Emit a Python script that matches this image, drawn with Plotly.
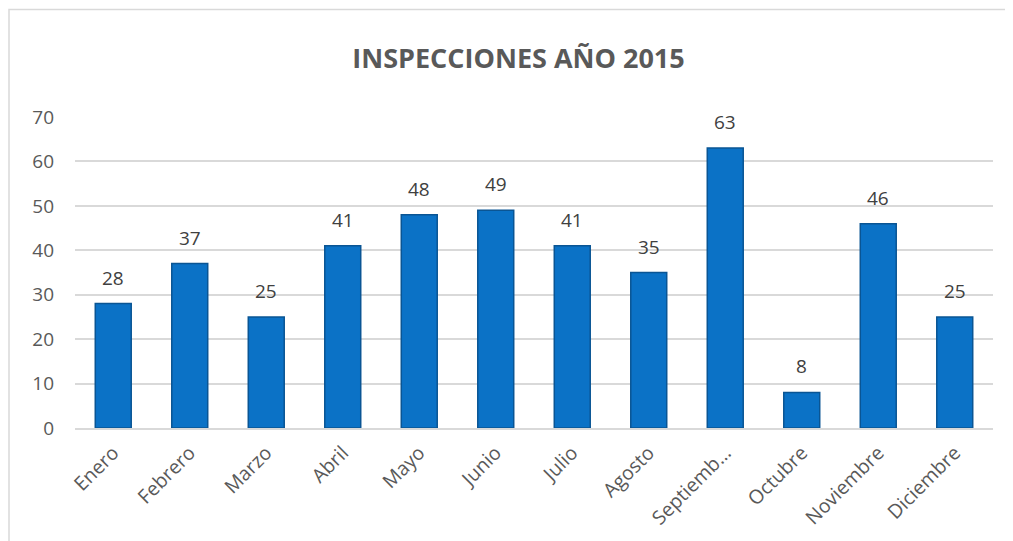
import plotly.graph_objects as go

months = ["Enero", "Febrero", "Marzo", "Abril", "Mayo", "Junio", "Julio",
          "Agosto", "Septiemb…", "Octubre", "Noviembre", "Diciembre"]
inspections = [28, 37, 25, 41, 48, 49, 41, 35, 63, 8, 46, 25]
y_ticks = [0, 10, 20, 30, 40, 50, 60, 70]
title_text = "INSPECCIONES AÑO 2015"

# page is rendered with an 8px body margin
OFF = 8
W, H = 1013 - OFF, 541 - OFF
L, T = 75 - OFF, 117 - OFF
R = W - (993 - OFF)
B = H - (428 - OFF)
pw, ph = W - L - R, H - T - B

def px_x(x):
    return (x - OFF - L) / pw

def px_y(y):
    return (H - B - (y - OFF)) / ph

fig = go.Figure(go.Bar(
    x=months, y=inspections,
    marker=dict(color="#0B72C6", line=dict(color="#0A5594", width=1.5)),
    hoverinfo="x+y",
))

annotations = [
    dict(x=m, y=v, xref="x", yref="y", text=str(v), showarrow=False,
         yanchor="bottom", yshift=11,
         font=dict(family="Open Sans", size=19, color="#404040"))
    for m, v in zip(months, inspections)
]

fig.update_layout(
    width=W, height=H,
    margin=dict(l=L, r=R, t=T, b=B),
    paper_bgcolor="white", plot_bgcolor="white",
    bargap=0.53,
    showlegend=False,
    annotations=annotations,
    title=dict(text="<b>" + title_text + "</b>", x=(518.5 - OFF) / W, xref="container",
               xanchor="center", y=1 - (59 - OFF) / H, yanchor="middle",
               font=dict(family="Open Sans", size=27, color="#595959")),
    xaxis=dict(tickangle=-45, tickfont=dict(family="Open Sans", size=19.5, color="#595959"),
               showgrid=False, showline=True, linecolor="#D9D9D9", linewidth=1.5,
               ticks="", fixedrange=True, ticklabelstandoff=4),
    yaxis=dict(range=[0, 70], tickvals=y_ticks, showgrid=True, gridcolor="#D9D9D9",
               gridwidth=1.5, zeroline=False, showline=False, ticks="",
               tickfont=dict(family="Open Sans", size=19, color="#595959"),
               ticklabelstandoff=20),
    shapes=[dict(type="rect", xref="paper", yref="paper",
                 x0=px_x(9), x1=px_x(1030), y0=px_y(560), y1=px_y(9.5),
                 line=dict(color="#D9D9D9", width=1.5), fillcolor="rgba(0,0,0,0)",
                 layer="below")],
)

fig.write_html("out.html")
